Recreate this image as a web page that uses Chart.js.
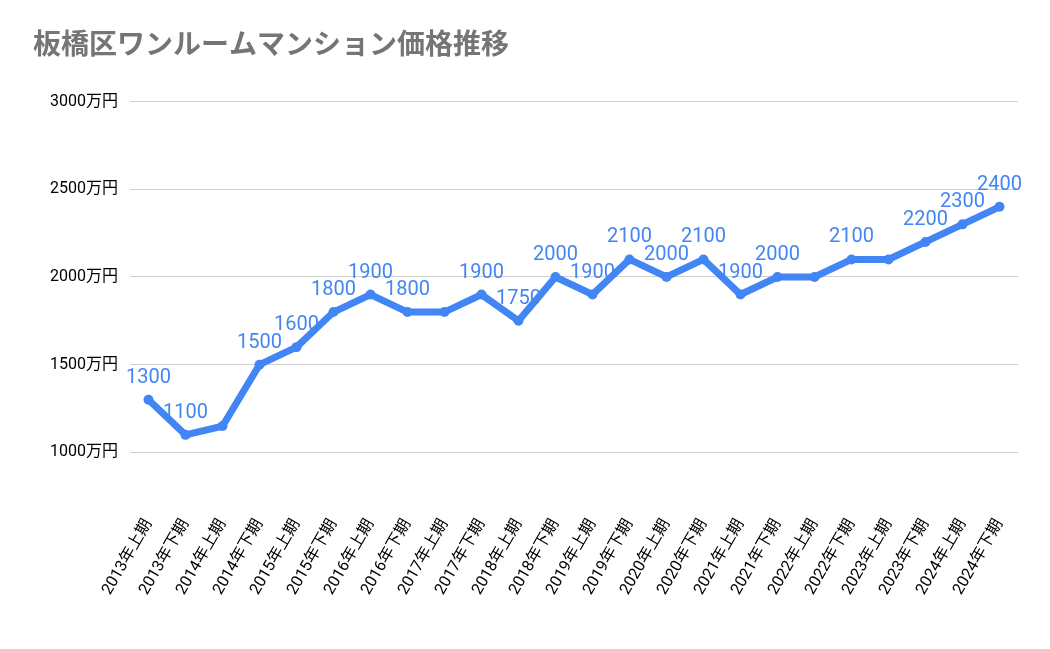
<!DOCTYPE html>
<html>
<head>
<meta charset="utf-8">
<script src="https://cdn.jsdelivr.net/npm/chart.js@4"></script>
<style>
  body { margin: 0; background: #fff; }
  #wrap { width: 1050px; height: 649px; position: relative; }
</style>
</head>
<body>
<div id="wrap"><canvas id="priceChart"></canvas></div>
<script>
const periods = ['2013年上期','2013年下期','2014年上期','2014年下期','2015年上期','2015年下期',
  '2016年上期','2016年下期','2017年上期','2017年下期','2018年上期','2018年下期',
  '2019年上期','2019年下期','2020年上期','2020年下期','2021年上期','2021年下期',
  '2022年上期','2022年下期','2023年上期','2023年下期','2024年上期','2024年下期'];
const prices = [1300,1100,1150,1500,1600,1800,1900,1800,1800,1900,1750,2000,
  1900,2100,2000,2100,1900,2000,2000,2100,2100,2200,2300,2400];
// labels that the original chart shows (others hidden as overlapping)
const showLabel = [1,1,0,1,1,1,1,1,0,1,1,1,1,1,1,1,1,1,0,1,0,1,1,1];
const yTicks = [1000,1500,2000,2500,3000];

const blue = '#4285F4';
const font = 'Roboto, "Noto Sans CJK JP", sans-serif';

const labelPlugin = {
    id: 'pointLabels',
    afterDatasetsDraw(chart) {
        const ctx = chart.ctx;
        const meta = chart.getDatasetMeta(0);
        ctx.save();
        ctx.fillStyle = blue;
        ctx.font = '20px ' + font;
        ctx.textAlign = 'center';
        ctx.textBaseline = 'bottom';
        meta.data.forEach(function(pt, i) {
            if (!showLabel[i]) return;
            ctx.fillText(String(prices[i]), pt.x, pt.y - 12);
        });
        ctx.restore();
    }
};

new Chart(document.getElementById('priceChart').getContext('2d'), {
    type: 'line',
    data: {
        labels: periods,
        datasets: [{
            data: prices,
            borderColor: blue,
            backgroundColor: blue,
            borderWidth: 7,
            pointRadius: 5,
            pointBackgroundColor: blue,
            pointBorderWidth: 0,
            tension: 0
        }]
    },
    options: {
        responsive: true,
        maintainAspectRatio: false,
        animation: false,
        layout: { padding: { left: 33, right: 32, top: 14, bottom: 6 } },
        plugins: {
            legend: { display: false },
            tooltip: { enabled: false },
            title: {
                display: true,
                text: '板橋区ワンルームマンション価格推移',
                align: 'start',
                color: '#757575',
                font: { size: 28, weight: 'bold', family: font },
                padding: { top: 16, bottom: 38 }
            }
        },
        scales: {
            y: {
                min: 700,
                max: 3000,
                afterBuildTicks: function(axis) {
                    axis.ticks = yTicks.map(function(v) { return { value: v }; });
                },
                afterFit: function(axis) { axis.width = 97; },
                border: { display: false },
                grid: { color: '#d0d0d0', drawTicks: false },
                ticks: {
                    padding: 12,
                    color: '#000',
                    font: { size: 16, family: font },
                    callback: function(v) { return v + '万円'; }
                }
            },
            x: {
                offset: true,
                afterFit: function(axis) { axis.height = 138; },
                border: { display: false },
                grid: { display: false },
                ticks: {
                    color: '#000',
                    minRotation: 60,
                    maxRotation: 60,
                    autoSkip: false,
                    font: { size: 16, family: font }
                }
            }
        }
    },
    plugins: [labelPlugin]
});
</script>
</body>
</html>
